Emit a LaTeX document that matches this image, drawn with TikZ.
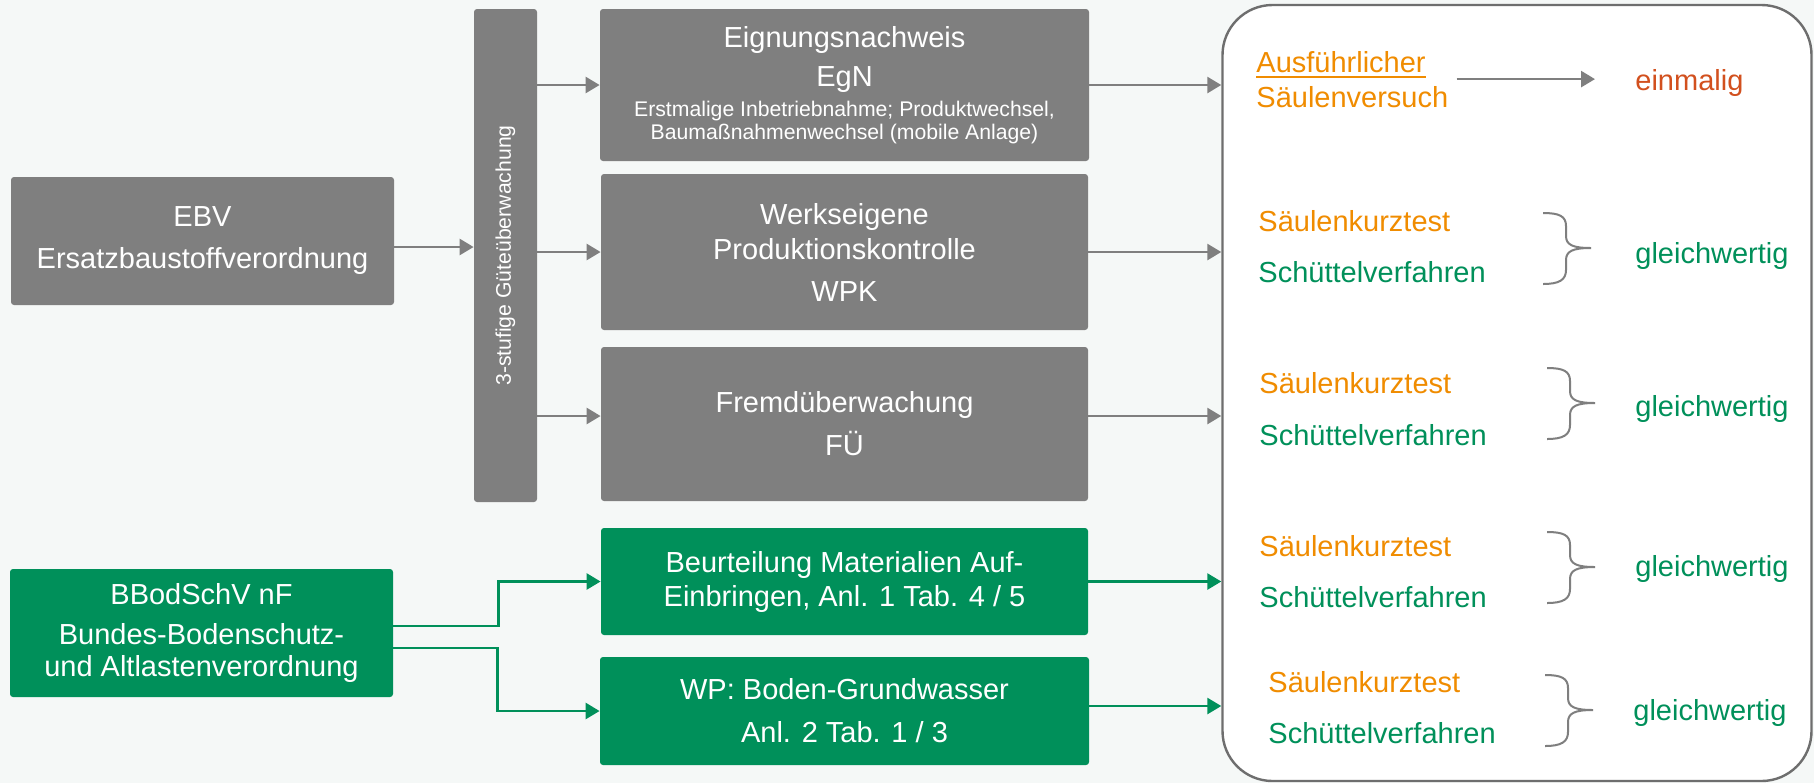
\documentclass[tikz,border=0pt]{standalone}
\usepackage{fontspec}
\setmainfont{Liberation Sans}
\usetikzlibrary{arrows.meta}
\definecolor{bgcol}{HTML}{F5F8F7}
\definecolor{boxgray}{HTML}{7F7F7F}
\definecolor{boxgreen}{HTML}{00905A}
\definecolor{txtorange}{HTML}{F08C00}
\definecolor{txtred}{HTML}{D2501E}
\definecolor{framegray}{HTML}{6E6E6E}
\newcommand\orul[1]{\setbox0=\hbox{#1}\rlap{\vrule width \wd0 height -1.8pt depth 3.2pt}\box0}
\tikzset{
  curlybr/.pic={\draw[brc] (-24,-35) .. controls (-8,-35) and (-1,-32) .. (-1,-22) -- (-1,-12) .. controls (-1,-3) and (6,0) .. (24,0) .. controls (6,0) and (-1,3) .. (-1,12) -- (-1,22) .. controls (-1,32) and (-8,36) .. (-24,36);}
}
\begin{document}
\begin{tikzpicture}[x=0.5pt,y=-0.5pt,
  box/.style={rectangle, rounded corners=1.5pt, text=white, align=center, inner sep=0pt},
  graybox/.style={box, fill=boxgray},
  greenbox/.style={box, fill=boxgreen},
  garrow/.style={draw=boxgray, line width=1.3pt, -{Triangle[length=7pt,width=8pt]}},
  grarrow/.style={draw=boxgreen, line width=1.3pt, -{Triangle[length=7pt,width=8pt]}},
  lbl/.style={inner sep=0pt, anchor=base west, font=\fontsize{14.5}{17.5}\selectfont},
  brc/.style={draw=boxgray, line width=1pt},
]
\fill[bgcol] (0,0) rectangle (1814,783);
\useasboundingbox (0,0) rectangle (1814,783);

% left boxes
\node[graybox, minimum width=191.5pt, minimum height=64pt, font=\fontsize{14.5}{21}\selectfont] (ebv) at (202.5,241) {EBV\\Ersatzbaustoffverordnung};
\node[greenbox, minimum width=191.5pt, minimum height=64pt, font=\fontsize{14.5}{16}\selectfont] (bb) at (201.5,633) {BBodSchV nF\\[4pt]Bundes-Bodenschutz-\\und Altlastenverordnung};

% vertical bar
\node[graybox, minimum width=31.5pt, minimum height=246.5pt] (bar) at (505.5,255.5) {};
\node[text=white, rotate=90, inner sep=0pt, font=\fontsize{10.6}{12}\selectfont] (bartext) at (bar.center) {3-stufige Güteüberwachung};

% middle boxes
\node[graybox, minimum width=244.5pt, minimum height=76pt, font=\fontsize{14.5}{19.5}\selectfont] (egn) at (844.5,85) {Eignungsnachweis\\EgN\\[-4.5pt]{\fontsize{10.6}{11.5}\selectfont Erstmalige Inbetriebnahme; Produktwechsel,}\\[-8pt]{\fontsize{10.6}{11.5}\selectfont Baumaßnahmenwechsel (mobile Anlage)}};
\node[graybox, minimum width=243.5pt, minimum height=78pt, font=\fontsize{14.5}{17.5}\selectfont] (wpk) at (844.5,252) {Werkseigene\\Produktionskontrolle\\[3.5pt]WPK};
\node[graybox, minimum width=243.5pt, minimum height=77pt, font=\fontsize{14.5}{21.5}\selectfont] (fu) at (844.5,424) {Fremdüberwachung\\FÜ};
\node[greenbox, minimum width=243.5pt, minimum height=53.5pt, font=\fontsize{14.5}{17}\selectfont] (bu) at (844.5,581.5) {Beurteilung Materialien Auf-\\Einbringen, Anl. 1 Tab. 4 / 5};
\node[greenbox, minimum width=244.5pt, minimum height=54pt, font=\fontsize{14.5}{21.5}\selectfont] (wp) at (844.5,711) {WP: Boden-Grundwasser\\Anl. 2 Tab. 1 / 3};

% big rounded box
\node[draw=framegray, fill=white, line width=1.2pt, rounded corners=25pt, minimum width=294.5pt, minimum height=388pt, inner sep=0pt] (big) at (1517,393) {};

% connectors
\draw[garrow] ([yshift=-3pt]ebv.east) -- ([yshift=-3pt]ebv.east -| bar.west);
\draw[garrow] (bar.east |- egn.west) -- (egn.west);
\draw[garrow] (bar.east |- wpk.west) -- (wpk.west);
\draw[garrow] ([yshift=4pt]fu.west -| bar.east) -- ([yshift=4pt]fu.west);
\draw[grarrow] ([yshift=3.5pt]bb.east) -- ++(105,0) |- (bu.west);
\draw[grarrow] ([yshift=-7.5pt]bb.east) -- ++(104,0) |- (wp.west);

\draw[garrow] (egn.east) -- (egn.east -| big.west);
\draw[garrow] (wpk.east) -- (wpk.east -| big.west);
\draw[garrow] ([yshift=4pt]fu.east) -- ([yshift=4pt]fu.east -| big.west);
\draw[grarrow] (bu.east) -- (bu.east -| big.west);
\draw[grarrow] ([yshift=2.5pt]wp.east) -- ([yshift=2.5pt]wp.east -| big.west);

% texts in big box
\node[lbl, text=txtorange] (ausf) at (1256,72) {\orul{Ausführlicher}};
\node[lbl, text=txtorange] (sv) at (1256,107) {Säulenversuch};
\node[lbl, text=txtred] (einm) at (1635,90) {einmalig};
\draw[garrow, shorten <=4pt] ([yshift=1.7pt]sv.east |- einm.west) -- ([yshift=1.7pt,xshift=-20pt]einm.west);

\node[lbl, text=txtorange] (s1) at (1258,231) {Säulenkurztest};
\node[lbl, text=boxgreen] (t1) at (1258,282) {Schüttelverfahren};
\node[lbl, text=boxgreen] (g1) at (1635,263) {gleichwertig};
\pic at (1567,248) {curlybr};

\node[lbl, text=txtorange] (s2) at (1259,393) {Säulenkurztest};
\node[lbl, text=boxgreen] (t2) at (1259,445) {Schüttelverfahren};
\node[lbl, text=boxgreen] (g2) at (1635,416) {gleichwertig};
\pic at (1571,403) {curlybr};

\node[lbl, text=txtorange] (s3) at (1259,556) {Säulenkurztest};
\node[lbl, text=boxgreen] (t3) at (1259,607) {Schüttelverfahren};
\node[lbl, text=boxgreen] (g3) at (1635,576) {gleichwertig};
\pic at (1571,567) {curlybr};

\node[lbl, text=txtorange] (s4) at (1268,692) {Säulenkurztest};
\node[lbl, text=boxgreen] (t4) at (1268,743) {Schüttelverfahren};
\node[lbl, text=boxgreen] (g4) at (1633,720) {gleichwertig};
\pic at (1569,710) {curlybr};
\end{tikzpicture}
\end{document}
